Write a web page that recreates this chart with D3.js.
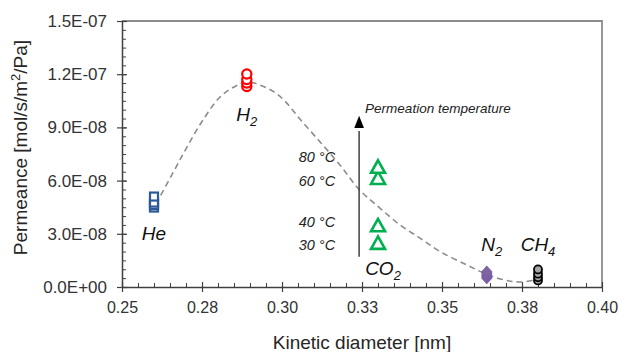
<!DOCTYPE html>
<html>
<head>
<meta charset="utf-8">
<script src="https://cdn.jsdelivr.net/npm/d3@7"></script>
<style>
  body { margin: 0; background: #fff; }
  text { font-family: Arial, "Liberation Sans", sans-serif; }
</style>
</head>
<body>
<div id="chart"></div>
<script>
// gases, kinetic diameter [nm]
var gases = ["He", "H2", "CO2", "N2", "CH4"];
var diameters = [0.26, 0.289, 0.33, 0.364, 0.38];

// permeance at 30, 40, 60, 80 °C  [mol/s/m2/Pa]
var temps = ["30 °C", "40 °C", "60 °C", "80 °C"];
var heValues = [4.48e-8, 4.62e-8, 4.76e-8, 5.10e-8];
var h2Values = [1.131e-7, 1.150e-7, 1.170e-7, 1.201e-7];
var co2Values = [2.49e-8, 3.48e-8, 6.15e-8, 6.78e-8];
var n2Values = [5.1e-9, 6.2e-9, 7.3e-9, 8.5e-9];
var ch4Values = [3.7e-9, 5.5e-9, 7.5e-9, 9.9e-9];

// dashed guide curve
var trendX = [0.2606, 0.2659, 0.2703, 0.2753, 0.2806, 0.2844, 0.2891, 0.2931, 0.2975,
              0.3009, 0.3056, 0.3119, 0.3181, 0.3241, 0.3306, 0.3369, 0.3431, 0.3494,
              0.3578, 0.3638, 0.3697, 0.3744, 0.3791];
var trendY = [4.68e-8, 6.43e-8, 7.89e-8, 9.42e-8, 1.071e-7, 1.122e-7, 1.156e-7, 1.139e-7, 1.100e-7,
              1.049e-7, 9.47e-8, 8.18e-8, 6.88e-8, 5.50e-8, 4.45e-8, 3.50e-8, 2.76e-8, 2.00e-8,
              1.24e-8, 7.3e-9, 3.9e-9, 2.8e-9, 3.9e-9];

var xTicks = [0.25, 0.275, 0.30, 0.325, 0.35, 0.375, 0.40];
var xTickLabels = ["0.25", "0.28", "0.30", "0.33", "0.35", "0.38", "0.40"];
var yTicks = [0, 3e-8, 6e-8, 9e-8, 1.2e-7, 1.5e-7];
var yTickLabels = ["0.0E+00", "3.0E-08", "6.0E-08", "9.0E-08", "1.2E-07", "1.5E-07"];

var width = 619, height = 352;
var margin = {top: 21, right: 17, bottom: 65, left: 122};
var w = width - margin.left - margin.right,
    h = height - margin.top - margin.bottom;

var svg = d3.select("#chart").append("svg")
    .attr("width", width)
    .attr("height", height);
var g = svg.append("g")
    .attr("transform", "translate(" + margin.left + "," + margin.top + ")");

var x = d3.scaleLinear().domain([0.25, 0.40]).range([0, w]);
var y = d3.scaleLinear().domain([0, 1.5e-7]).range([h, 0]);

// frame: top and right in grey
g.append("path")
    .attr("d", "M0,0H" + w + "V" + h)
    .attr("fill", "none")
    .attr("stroke", "#8c8c8c")
    .attr("stroke-width", 1.8);

// minor ticks (inside)
var xMinor = d3.range(0, 31).map(function(i) { return 0.25 + i * 0.005; });
var yMinor = d3.range(0, 31).map(function(i) { return i * 5e-9; });
g.append("g")
    .attr("transform", "translate(0," + h + ")")
    .call(d3.axisBottom(x).tickValues(xMinor).tickSize(-4).tickFormat(""))
    .call(function(s) { s.select(".domain").remove(); s.selectAll("line").attr("stroke", "#404040"); });
g.append("g")
    .call(d3.axisLeft(y).tickValues(yMinor).tickSize(-4).tickFormat(""))
    .call(function(s) { s.select(".domain").remove(); s.selectAll("line").attr("stroke", "#404040"); });

// major axes
var xAxis = g.append("g")
    .attr("transform", "translate(0," + h + ")")
    .call(d3.axisBottom(x).tickValues(xTicks)
        .tickFormat(function(d, i) { return xTickLabels[i]; })
        .tickSize(5).tickSizeOuter(0).tickPadding(10));
xAxis.selectAll(".tick line").attr("y1", -5);
var yAxis = g.append("g")
    .call(d3.axisLeft(y).tickValues(yTicks)
        .tickFormat(function(d, i) { return yTickLabels[i]; })
        .tickSize(5).tickSizeOuter(0).tickPadding(10));
yAxis.selectAll(".tick line").attr("x1", 5);

[xAxis, yAxis].forEach(function(a) {
  a.select(".domain").attr("stroke", "#404040").attr("stroke-width", 1.5);
  a.selectAll(".tick line").attr("stroke", "#404040").attr("stroke-width", 1.2);
  a.selectAll("text")
      .attr("font-size", a === xAxis ? 16 : 17)
      .attr("font-family", "Arial, 'Liberation Sans', sans-serif")
      .attr("fill", "#333");
});

// axis titles
svg.append("text")
    .attr("x", margin.left + w / 2)
    .attr("y", 349)
    .attr("text-anchor", "middle")
    .attr("font-size", 19)
    .attr("fill", "#262626")
    .text("Kinetic diameter [nm]");

var yt = svg.append("text")
    .attr("transform", "translate(27,147.5) rotate(-90)")
    .attr("text-anchor", "middle")
    .attr("font-size", 19)
    .attr("fill", "#262626");
yt.append("tspan").text("Permeance [mol/s/m");
yt.append("tspan").attr("font-size", 13).attr("dy", -7).text("2");
yt.append("tspan").attr("dy", 7).text("/Pa]");

// dashed guide curve
var trend = trendX.map(function(d, i) { return [d, trendY[i]]; });
g.append("path")
    .datum(trend)
    .attr("fill", "none")
    .attr("stroke", "#8c8c8c")
    .attr("stroke-width", 1.6)
    .attr("stroke-dasharray", "6,4")
    .attr("d", d3.line()
        .curve(d3.curveCatmullRom)
        .x(function(d) { return x(d[0]); })
        .y(function(d) { return y(d[1]); }));

// permeation temperature arrow
var arrowX = 0.3241;
g.append("line")
    .attr("x1", x(arrowX)).attr("x2", x(arrowX))
    .attr("y1", y(1.7e-8)).attr("y2", y(8.8e-8))
    .attr("stroke", "#404040")
    .attr("stroke-width", 1.5);
g.append("path")
    .attr("d", d3.symbol().type(d3.symbolTriangle).size(50))
    .attr("transform", "translate(" + x(arrowX) + "," + (y(9.2e-8)) + ") scale(0.9,1.3)")
    .attr("fill", "#000");
g.append("text")
    .attr("x", x(arrowX) + 6)
    .attr("y", y(9.8e-8))
    .attr("font-size", 13.5)
    .attr("font-style", "italic")
    .attr("fill", "#222")
    .text("Permeation temperature");

// temperature labels next to arrow
var tempLabelY = [2.08e-8, 3.38e-8, 5.69e-8, 7.05e-8];
g.selectAll(".temp")
    .data(temps)
  .enter().append("text")
    .attr("class", "temp")
    .attr("x", x(arrowX) - 24)
    .attr("y", function(d, i) { return y(tempLabelY[i]); })
    .attr("text-anchor", "end")
    .attr("font-size", 14.5)
    .attr("font-style", "italic")
    .attr("fill", "#222")
    .text(function(d) { return d; });

// markers
function pts(vals, xi) { return vals.map(function(v) { return {x: diameters[xi], v: v}; }); }

g.selectAll(".he").data(pts(heValues, 0)).enter().append("rect")
    .attr("x", function(d) { return x(d.x) - 4; })
    .attr("y", function(d) { return y(d.v) - 4; })
    .attr("width", 8).attr("height", 8)
    .attr("fill", "#fff").attr("stroke", "#2c5a96").attr("stroke-width", 2.2);

g.selectAll(".h2").data(pts(h2Values, 1)).enter().append("circle")
    .attr("cx", function(d) { return x(d.x); })
    .attr("cy", function(d) { return y(d.v); })
    .attr("r", 4.6)
    .attr("fill", "#fff").attr("stroke", "#ff0000").attr("stroke-width", 2.2);

g.selectAll(".co2").data(pts(co2Values, 2)).enter().append("path")
    .attr("d", "M0,-6.5L7,6L-7,6Z")
    .attr("transform", function(d) { return "translate(" + x(d.x) + "," + y(d.v) + ")"; })
    .attr("fill", "#fff").attr("stroke", "#00b050").attr("stroke-width", 2.6)
    .attr("stroke-linejoin", "miter");

g.selectAll(".n2").data(pts(n2Values, 3)).enter().append("path")
    .attr("d", "M0,-5.5L5,0L0,5.5L-5,0Z")
    .attr("transform", function(d) { return "translate(" + x(d.x) + "," + y(d.v) + ")"; })
    .attr("fill", "#8064a2").attr("stroke", "#7a5ea8").attr("stroke-width", 1.2);

g.selectAll(".ch4").data(pts(ch4Values, 4)).enter().append("circle")
    .attr("cx", function(d) { return x(d.x); })
    .attr("cy", function(d) { return y(d.v); })
    .attr("r", 4)
    .attr("fill", "#a6a6a6").attr("stroke", "#000").attr("stroke-width", 1.8);

// gas labels
var labelDx = [0, 0, 5, 5, 0];
var labelDy = [32.5, 35, 32, -21, -18.5];
var labelBase = [heValues[0], h2Values[0], co2Values[0], n2Values[3], ch4Values[3]];
gases.forEach(function(name, i) {
  var t = g.append("text")
      .attr("x", x(diameters[i]) + labelDx[i])
      .attr("y", y(labelBase[i]) + labelDy[i])
      .attr("text-anchor", "middle")
      .attr("font-size", 19)
      .attr("font-style", "italic")
      .attr("fill", "#111");
  var m = name.match(/^([A-Za-z]+?)(\d*)$/);
  t.append("tspan").text(m[1]);
  if (m[2]) t.append("tspan").attr("font-size", 13).attr("dy", 5).text(m[2]);
});
</script>
</body>
</html>
